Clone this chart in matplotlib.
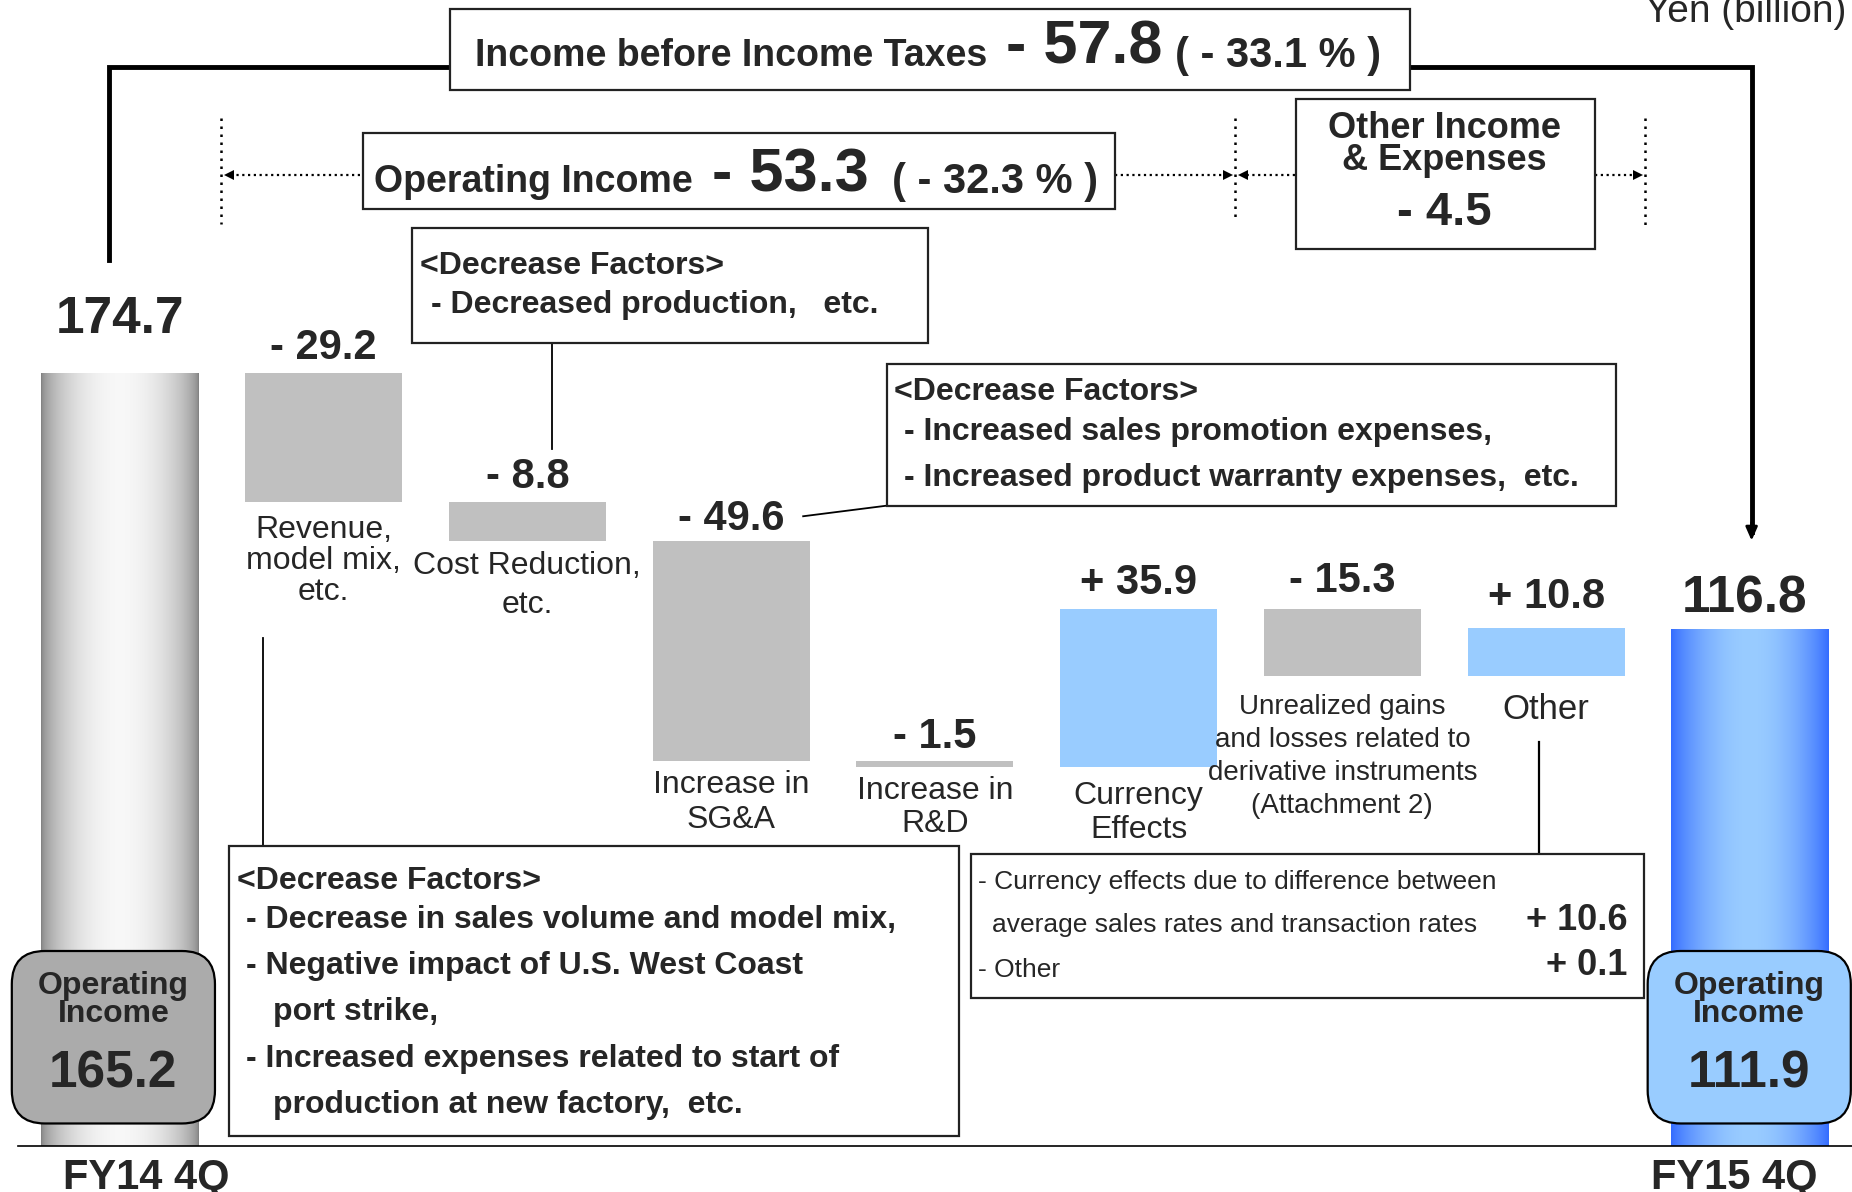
import numpy as np
import matplotlib
matplotlib.use("Agg")
import matplotlib.pyplot as plt
from matplotlib.patches import Rectangle, FancyBboxPatch

plt.rcParams["font.family"] = ["Liberation Sans", "DejaVu Sans"]

# ---- data (Yen billion) ----
start_label = "FY14 4Q"
end_label = "FY15 4Q"
start_value = 174.7
end_value = 116.8
step_labels = ["Revenue,\nmodel mix,\netc.", "Cost Reduction,\netc.", "Increase in\nSG&A",
               "Increase in\nR&D", "Currency\nEffects",
               "Unrealized gains\nand losses related to\nderivative instruments\n(Attachment 2)",
               "Other"]
step_values = [-29.2, -8.8, -49.6, -1.5, 35.9, -15.3, 10.8]
op_income = [165.2, 111.9]
pretax_change, pretax_pct = -57.8, -33.1
op_change, op_pct = -53.3, -32.3
other_inc_change = -4.5
currency_detail_labels = ["- Currency effects due to difference between",
                          "average sales rates and transaction rates", "- Other"]
currency_detail_values = [10.6, 0.1]

TXT = "#262626"
GRAY = "#C0C0C0"
BLUE = "#99CCFF"


def sgn(v):
    return ("+ " if v > 0 else "- ") + f"{abs(v):.1f}"


fig = plt.figure(figsize=(18.52, 11.92), dpi=100)
ax = fig.add_axes([0, 0, 1, 1])
ax.set_axis_off()

# bars: slot i at x=i, 0 on baseline
n = len(step_values) + 2
w = 0.771
tops, bottoms = [], []
level = start_value
for v in step_values:
    new = level + v
    tops.append(max(level, new))
    bottoms.append(min(level, new))
    level = new

for i, v in enumerate(step_values):
    ax.bar(i + 1, tops[i] - bottoms[i], bottom=bottoms[i], width=w,
           color=BLUE if v > 0 else GRAY, linewidth=0)

# gradient end bars
t = np.linspace(0, 1, 256)
s = np.sin(np.pi * t) ** 0.55
gray_grad = np.stack([0.5 + 0.47 * s] * 3, axis=-1)[None, :, :]
edge = np.array([0.20, 0.42, 1.0])
mid = np.array([0.60, 0.80, 1.0])
blue_grad = (edge + (mid - edge) * (np.sin(np.pi * t) ** 0.8)[:, None])[None, :, :]
ax.imshow(gray_grad, extent=(0 - w / 2, 0 + w / 2, 0, start_value), aspect="auto",
          interpolation="bilinear", zorder=1)
ax.imshow(blue_grad, extent=(n - 1 - w / 2, n - 1 + w / 2, 0, end_value), aspect="auto",
          interpolation="bilinear", zorder=1)

# value labels
gaps = [29, 10.5, 10.5, 8, 9, 10.5, 12, 15, 12]
nudge = [0, 0, 0, 0, 0, 0, 0, 0, -4]
all_tops = [start_value] + tops + [end_value]
val_text = [f"{start_value:.1f}"] + [sgn(v) for v in step_values] + [f"{end_value:.1f}"]
for i in range(n):
    big = i in (0, n - 1)
    ax.annotate(val_text[i], (i, all_tops[i]), xytext=(nudge[i], gaps[i]),
                textcoords="offset points", ha="center", va="baseline",
                fontsize=37 if big else 30, fontweight="bold", color=TXT)

# category labels
lab_off = [9, 7, 7, 6, 10, 13, 12]
lab_size = [23, 23, 23, 23, 23, 20, 25]
lab_ls = [1.05, 1.4, 1.22, 1.15, 1.15, 1.34, 1.2]
for i, lab in enumerate(step_labels):
    ax.annotate(lab, (i + 1, bottoms[i]), xytext=(0, -lab_off[i]), textcoords="offset points",
                ha="center", va="top", fontsize=lab_size[i], color=TXT,
                linespacing=lab_ls[i])

ax.set_xlim(-101.5 / 172.5, (1568 - 101.5) / 172.5)
ax.set_ylim(-(1009 - 970) / 3.744, 970 / 3.744)

# ---- overlay in reference pixel space ----
ov = fig.add_axes([0, 0, 1, 1], zorder=5)
ov.set_xlim(0, 1568)
ov.set_ylim(1009, 0)
ov.set_axis_off()
ov.patch.set_alpha(0)


def T(x, y, s, size=23, bold=True, ha="left", va="center", **kw):
    ov.text(x, y + 3, s, fontsize=size, fontweight="bold" if bold else "normal",
            ha=ha, va=va, color=TXT, **kw)


def box(x0, y0, x1, y1, lw=1.6):
    ov.add_patch(Rectangle((x0, y0), x1 - x0, y1 - y0, facecolor="white",
                           edgecolor="#222222", lw=lw, zorder=2))


# baseline
ov.plot([15, 1568], [970, 970], color="black", lw=1.2)

# income-before-taxes bracket
ov.plot([92, 92, 381], [220, 57, 57], color="black", lw=3.5, solid_joinstyle="miter")
ov.plot([1194, 1483, 1483], [57, 57, 450], color="black", lw=3.5, solid_joinstyle="miter")
ov.annotate("", xy=(1483, 460), xytext=(1483, 440),
            arrowprops=dict(arrowstyle="-|>,head_length=0.8,head_width=0.35", color="black", lw=2))

box(381, 8, 1194, 76)
T(402, 44, "Income before Income Taxes", 27)
T(852, 38, sgn(pretax_change), 44)
T(995, 44, f"( {sgn(pretax_pct)} % )", 30)

# dotted operating income range
for xv, y0, y1 in [(187, 100, 190), (1046, 100, 187), (1393, 100, 192)]:
    ov.plot([xv, xv], [y0, y1], color="black", lw=1.8, ls=(0, (1, 2.2)))
for x0, x1, mk in [(305, 194, "<"), (944, 1040, ">"), (1096, 1052, "<"), (1350, 1387, ">")]:
    ov.plot([x0, x1], [148, 148], color="black", lw=1.6, ls=(0, (1, 1.6)))
    ov.plot([x1], [148], marker=mk, color="black", ms=7, mew=0)

box(307, 113, 944, 177)
T(317, 151, "Operating Income", 27)
T(603, 146, sgn(op_change), 44)
T(755, 151, f"( {sgn(op_pct)} % )", 30)

box(1097, 84, 1350, 211)
T(1223, 106, "Other Income", 26, ha="center")
T(1223, 133, "& Expenses", 26, ha="center")
T(1223, 177, sgn(other_inc_change), 34, ha="center")

# factor boxes + leaders
ov.plot([467, 467], [290, 380], color="black", lw=1.3)
box(349, 193, 786, 290)
T(356, 222, "<Decrease Factors>")
T(365, 255, "- Decreased production,   etc.")

ov.plot([751, 680], [428, 437], color="black", lw=1.3)
box(751, 308, 1368, 428)
T(757, 329, "<Decrease Factors>")
T(765, 363, "- Increased sales promotion expenses,")
T(765, 402, "- Increased product warranty expenses,  etc.")

ov.plot([223, 223], [540, 716], color="black", lw=1.3)
box(194, 716, 812, 962)
T(201, 743, "<Decrease Factors>")
T(208, 776, "- Decrease in sales volume and model mix,")
T(208, 815, "- Negative impact of U.S. West Coast")
T(231, 854, "port strike,")
T(208, 893, "- Increased expenses related to start of")
T(231, 932, "production at new factory,  etc.")

ov.plot([1303, 1303], [628, 723], color="black", lw=1.6)
box(822, 723, 1392, 845)
T(828, 744, currency_detail_labels[0], 19, bold=False)
T(840, 780, currency_detail_labels[1], 19, bold=False)
T(828, 818, currency_detail_labels[2], 19, bold=False)
T(1378, 776, sgn(currency_detail_values[0]), 26, ha="right")
T(1378, 814, sgn(currency_detail_values[1]), 26, ha="right")

# operating income rounded boxes
for (x0, x1, fc, val, cx) in [(10, 182, "#ABABAB", op_income[0], 96),
                              (1395, 1567, BLUE, op_income[1], 1481)]:
    ov.add_patch(FancyBboxPatch((x0, 805), x1 - x0, 146,
                                boxstyle="round,pad=0,rounding_size=28",
                                facecolor=fc, edgecolor="black", lw=1.6, zorder=3))
    for yy, txt, fs in [(835, "Operating", 23), (858, "Income", 23), (909, f"{val:.1f}", 37)]:
        ov.text(cx, yy, txt, fontsize=fs, fontweight="bold", ha="center", va="center",
                color=TXT, zorder=4)

T(124, 994, start_label, 30, ha="center")
T(1468, 994, end_label, 30, ha="center")
ov.text(1393, 18.6, "Yen (billion)", fontsize=28, ha="left", va="baseline", color=TXT)

fig.savefig("out.png", dpi=100)
